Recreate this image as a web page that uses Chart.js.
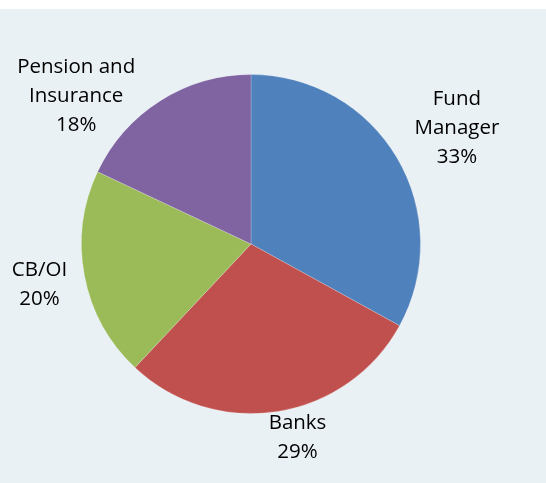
<!DOCTYPE html>
<html>
<head>
<meta charset="utf-8">
<script src="https://cdn.jsdelivr.net/npm/chart.js@4/dist/chart.umd.min.js"></script>
<style>
  html, body { margin: 0; padding: 0; background: #ffffff; }
  #wrap { position: absolute; left: 0; top: 9px; width: 546px; height: 474px; background: #EAF1F5; }
  canvas { display: block; }
</style>
</head>
<body>
<div id="wrap"><canvas id="c" width="546" height="474"></canvas></div>
<script>
const categories = ["Fund Manager", "Banks", "CB/OI", "Pension and Insurance"];
const shares = [33, 29, 20, 18];
const labelLines = [["Fund", "Manager", "33%"], ["Banks", "29%"], ["CB/OI", "20%"], ["Pension and", "Insurance", "18%"]];
const sliceColors = ["#4F81BD", "#C0504D", "#9BBB59", "#8064A2"];

// offsets of each label block centre from the slice's outer mid-point (style)
const labelOffsets = [[60, -30], [20, 26], [-45, 8.5], [-84, -4.5]];

const outsideLabels = {
  id: 'outsideLabels',
  afterDatasetsDraw(chart) {
    const ctx = chart.ctx;
    const meta = chart.getDatasetMeta(0);
    ctx.save();
    ctx.font = '20.5px "Open Sans", sans-serif';
    ctx.fillStyle = '#000000';
    ctx.textAlign = 'center';
    ctx.textBaseline = 'middle';
    const lh = 29;
    meta.data.forEach((arc, i) => {
      const p = arc.getProps(['x', 'y', 'startAngle', 'endAngle', 'outerRadius'], true);
      const mid = (p.startAngle + p.endAngle) / 2;
      const ax = p.x + Math.cos(mid) * p.outerRadius;
      const ay = p.y + Math.sin(mid) * p.outerRadius;
      const cx = ax + labelOffsets[i][0];
      const cy = ay + labelOffsets[i][1];
      const lines = labelLines[i];
      const top = cy - (lines.length - 1) * lh / 2;
      lines.forEach((t, k) => ctx.fillText(t, cx, top + k * lh));
    });
    ctx.restore();
  }
};

new Chart(document.getElementById('c'), {
  type: 'pie',
  data: {
    labels: categories,
    datasets: [{
      data: shares,
      backgroundColor: sliceColors,
      borderWidth: 1,
      borderColor: 'rgba(255,255,255,0.2)'
    }]
  },
  options: {
    responsive: false,
    animation: false,
    layout: { padding: { left: 81, right: 125, top: 65, bottom: 69 } },
    plugins: { legend: { display: false }, tooltip: { enabled: false } }
  },
  plugins: [outsideLabels]
});
</script>
</body>
</html>
